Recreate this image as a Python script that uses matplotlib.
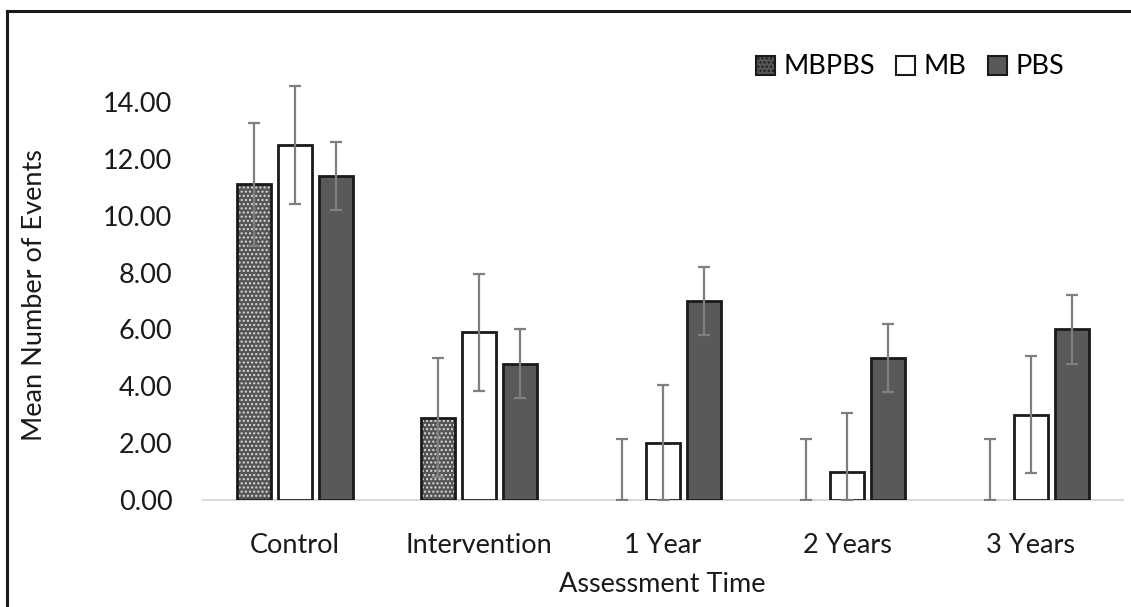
import matplotlib.pyplot as plt
import numpy as np
from matplotlib.patches import Patch
from matplotlib.lines import Line2D

plt.rcParams['font.family'] = ['Lato', 'DejaVu Sans']
plt.rcParams['hatch.linewidth'] = 1.0

categories = ['Control', 'Intervention', '1 Year', '2 Years', '3 Years']
series = ['MBPBS', 'MB', 'PBS']
mbpbs = [11.1, 2.9, 0.0, 0.0, 0.0]
mb = [12.5, 5.9, 2.0, 1.0, 3.0]
pbs = [11.4, 4.8, 7.0, 5.0, 6.0]
mbpbs_err = [2.15, 2.1, 2.15, 2.15, 2.15]
mb_err = [2.07, 2.05, 2.05, 2.05, 2.05]
pbs_err = [1.2, 1.2, 1.2, 1.2, 1.2]

W, H = 1131, 607
fig = plt.figure(figsize=(W / 100, H / 100), dpi=100)
ax = fig.add_axes([203 / W, 107 / H, 920 / W, 426.4 / H])

x = np.arange(len(categories))
width = 0.18
step = 0.223
fsize = 19.5

values = [mbpbs, mb, pbs]
errs = [mbpbs_err, mb_err, pbs_err]
faces = ['#555555', 'white', '#595959']

for i, (vals, err) in enumerate(zip(values, errs)):
    pos = x + (i - 1) * step
    vals = np.array(vals)
    err = np.array(err)
    edges = ['#1a1a1a' if v > 0 else 'none' for v in vals]
    if i == 0:
        ax.bar(pos, vals, width, color=faces[i], edgecolor='#dddddd',
               hatch='....', linewidth=0, zorder=2)
        ax.bar(pos, vals, width, fill=False, edgecolor=edges,
               linewidth=2, zorder=3)
    else:
        ax.bar(pos, vals, width, color=faces[i], edgecolor=edges,
               linewidth=2, zorder=3)
    lower = np.minimum(err, vals)
    ax.errorbar(pos, vals, yerr=[lower, err], fmt='none', ecolor='#7f7f7f',
                elinewidth=1.6, capsize=4.3, capthick=1.6, zorder=4)

ax.set_xlim(-0.5, len(categories) - 0.5)
ax.set_ylim(0, 15)
ax.set_yticks(np.arange(0, 15, 2))
ax.set_yticklabels(['%.2f' % v for v in np.arange(0, 15, 2)])
ax.set_xticks(x)
ax.set_xticklabels(categories)
ax.tick_params(axis='both', length=0, labelsize=fsize, colors='#1a1a1a')
ax.tick_params(axis='y', pad=22)
ax.tick_params(axis='x', pad=24)
for s in ['top', 'right', 'left']:
    ax.spines[s].set_visible(False)
ax.spines['bottom'].set_color('#d9d9d9')
ax.spines['bottom'].set_linewidth(1.5)
ax.spines['bottom'].set_zorder(1)

fig.text(35 / W, 1 - 295 / H, 'Mean Number of Events', rotation=90,
         ha='center', va='center', fontsize=fsize, color='#1a1a1a')
fig.text(662 / W, 1 - 585 / H, 'Assessment Time', ha='center',
         va='center', fontsize=fsize, color='#1a1a1a')

handles = [
    Patch(facecolor='#555555', edgecolor='#1a1a1a', hatch='....', linewidth=1.5),
    Patch(facecolor='white', edgecolor='#1a1a1a', linewidth=1.5),
    Patch(facecolor='#595959', edgecolor='#1a1a1a', linewidth=1.5),
]
fig.legend(handles, series, loc='center', bbox_to_anchor=(910 / W, 1 - 67 / H),
           ncol=3, frameon=False, fontsize=fsize, handlelength=0.7,
           handleheight=0.7, handletextpad=0.3, columnspacing=0.8)

# frame around the chart
fig.add_artist(Line2D([7 / W, 1.0], [1 - 11 / H, 1 - 11 / H], color='#1a1a1a',
                      linewidth=2.2, transform=fig.transFigure))
fig.add_artist(Line2D([7 / W, 7 / W], [1 - 11 / H, 0.0], color='#1a1a1a',
                      linewidth=2.2, transform=fig.transFigure))

fig.savefig('out.png', dpi=100)
